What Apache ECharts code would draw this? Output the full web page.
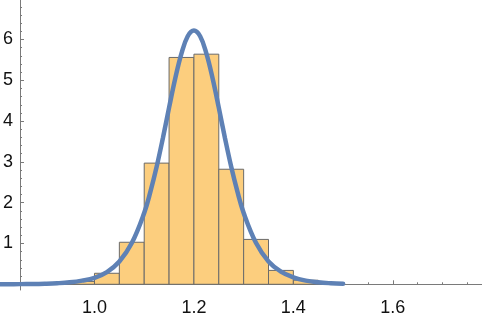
<!DOCTYPE html>
<html>
<head>
<meta charset="utf-8">
<script src="https://cdn.jsdelivr.net/npm/echarts@6/dist/echarts.min.js"></script>
<style>
html,body{margin:0;padding:0;background:#fff;}
#chart{width:482px;height:317px;}
</style>
</head>
<body>
<div id="chart"></div>
<script>
// Histogram bins (left edges, width 0.05) and densities
const binStarts = [0.85, 0.90, 0.95, 1.00, 1.05, 1.10, 1.15, 1.20, 1.25, 1.30, 1.35, 1.40, 1.45];
const binWidth = 0.05;
const binHeights = [0.01, 0.03, 0.07, 0.27, 1.03, 2.97, 5.56, 5.64, 2.82, 1.10, 0.34, 0.10, 0.02];

// Fitted density curve
const curveX = [0.800, 0.825, 0.850, 0.875, 0.900, 0.925, 0.950, 0.975, 1.000, 1.025, 1.050, 1.075,
  1.100, 1.1125, 1.125, 1.1375, 1.150, 1.1625, 1.175, 1.1875, 1.200, 1.2125, 1.225, 1.2375, 1.250,
  1.2625, 1.275, 1.2875, 1.300, 1.325, 1.350, 1.375, 1.400, 1.425, 1.450, 1.475, 1.500];
const curveY = [0.001, 0.002, 0.004, 0.007, 0.014, 0.026, 0.048, 0.09, 0.16, 0.30, 0.56, 1.01,
  1.75, 2.27, 2.88, 3.58, 4.33, 5.05, 5.66, 6.08, 6.22, 6.08, 5.66, 5.05, 4.33,
  3.58, 2.88, 2.27, 1.75, 1.01, 0.56, 0.31, 0.17, 0.09, 0.048, 0.026, 0.014];

// Tick values
const xMajorTicks = [1.0, 1.2, 1.4, 1.6];
const xMinorTicks = [0.90, 0.95, 1.05, 1.10, 1.15, 1.25, 1.30, 1.35, 1.45, 1.50, 1.55, 1.65, 1.70, 1.75];
const yMajorTicks = [1, 2, 3, 4, 5, 6];
const yMinorTicks = [0.2, 0.4, 0.6, 0.8, 1.2, 1.4, 1.6, 1.8, 2.2, 2.4, 2.6, 2.8, 3.2, 3.4, 3.6, 3.8,
  4.2, 4.4, 4.6, 4.8, 5.2, 5.4, 5.6, 5.8, 6.2, 6.4, 6.6, 6.8];

const X_MIN = 0.8154, X_MAX = 1.7794, Y_MIN = -0.14, Y_MAX = 6.968;
const AXIS_COLOR = '#7a7a7a';
const FONT = '"Liberation Sans", Arial, sans-serif';

const histData = binStarts.map((s, i) => [s, s + binWidth, binHeights[i]]);
const curveData = curveX.map((x, i) => [x, curveY[i]]);

const chart = echarts.init(document.getElementById('chart'), null, {renderer: 'canvas'});
chart.setOption({
  animation: false,
  backgroundColor: '#fff',
  grid: {left: 0, right: 0, top: 0, bottom: 27},
  xAxis: [{
    type: 'value', min: X_MIN, max: X_MAX, position: 'bottom',
    axisLine: {show: true, onZero: true, onZeroAxisIndex: 0, lineStyle: {color: AXIS_COLOR, width: 1}},
    axisTick: {show: true, inside: true, length: 4, customValues: xMajorTicks, lineStyle: {color: AXIS_COLOR}},
    axisLabel: {show: true, customValues: xMajorTicks, margin: 9, color: '#111', fontSize: 18, fontFamily: FONT,
      formatter: v => v.toFixed(1)},
    splitLine: {show: false}
  }, {
    type: 'value', min: X_MIN, max: X_MAX, position: 'bottom',
    axisLine: {show: false, onZero: true, onZeroAxisIndex: 1},
    axisTick: {show: true, inside: true, length: 2, customValues: xMinorTicks, lineStyle: {color: AXIS_COLOR}},
    axisLabel: {show: false},
    splitLine: {show: false}
  }],
  yAxis: [{
    type: 'value', min: Y_MIN, max: Y_MAX, position: 'left', offset: -17.3,
    axisLine: {show: true, onZero: false, lineStyle: {color: AXIS_COLOR, width: 1}},
    axisTick: {show: true, inside: true, length: 4, customValues: yMajorTicks, lineStyle: {color: AXIS_COLOR}},
    axisLabel: {show: true, customValues: yMajorTicks, margin: 7, color: '#111', fontSize: 18, fontFamily: FONT},
    splitLine: {show: false}
  }, {
    type: 'value', min: Y_MIN, max: Y_MAX, position: 'left', offset: -17.3,
    axisLine: {show: false, onZero: false},
    axisTick: {show: true, inside: true, length: 2, customValues: yMinorTicks, lineStyle: {color: AXIS_COLOR}},
    axisLabel: {show: false},
    splitLine: {show: false}
  }],
  series: [{
    type: 'custom',
    xAxisIndex: 0, yAxisIndex: 0,
    z: 2,
    encode: {x: [0, 1], y: 2},
    data: histData,
    renderItem: function (params, api) {
      const p0 = api.coord([api.value(0), api.value(2)]);
      const p1 = api.coord([api.value(1), 0]);
      return {
        type: 'rect',
        shape: {x: p0[0], y: p0[1], width: p1[0] - p0[0], height: p1[1] - p0[1]},
        style: {fill: '#FCCE7E', stroke: '#6a6a6a', lineWidth: 1}
      };
    }
  }, {
    type: 'line',
    xAxisIndex: 0, yAxisIndex: 0,
    z: 3,
    data: curveData,
    showSymbol: false,
    smooth: 0.4,
    lineStyle: {color: '#5E81B5', width: 4.5, cap: 'round'}
  }]
});
</script>
</body>
</html>
